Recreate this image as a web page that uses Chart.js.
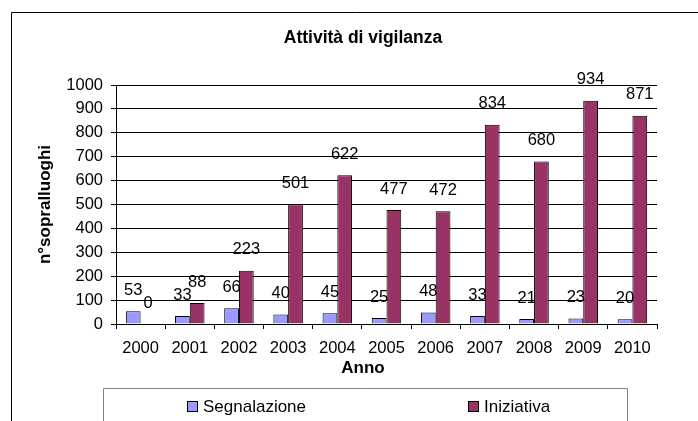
<!DOCTYPE html>
<html>
<head>
<meta charset="utf-8">
<script src="https://cdn.jsdelivr.net/npm/chart.js@4/dist/chart.umd.min.js"></script>
<style>
  html, body { margin: 0; padding: 0; background: #fff; }
  #wrap { width: 698px; height: 421px; }
</style>
</head>
<body>
<div id="wrap"><canvas id="chart" width="698" height="421"></canvas></div>
<script>
const years = ['2000', '2001', '2002', '2003', '2004', '2005', '2006', '2007', '2008', '2009', '2010'];
const segnalazione = [53, 33, 66, 40, 45, 25, 48, 33, 21, 23, 20];
const iniziativa = [0, 88, 223, 501, 622, 477, 472, 834, 680, 934, 871];

const FONT = "'Liberation Sans', Arial, sans-serif";

// value labels above the bars, frame, x title and boxed legend
const decorations = {
    id: 'decorations',
    afterDatasetsDraw(chart) {
        const ctx = chart.ctx;
        ctx.save();
        ctx.fillStyle = '#000';
        ctx.font = '16.5px ' + FONT;
        ctx.textAlign = 'center';
        ctx.textBaseline = 'middle';
        chart.data.datasets.forEach((ds, i) => {
            chart.getDatasetMeta(i).data.forEach((bar, j) => {
                ctx.fillText(String(ds.data[j]), bar.x, bar.y - 21);
            });
        });
        ctx.restore();
    },
    afterDraw(chart) {
        const ctx = chart.ctx;
        ctx.save();
        // outer frame
        ctx.strokeStyle = '#000';
        ctx.lineWidth = 1;
        ctx.beginPath();
        ctx.moveTo(11.5, 430);
        ctx.lineTo(11.5, 12.5);
        ctx.lineTo(700, 12.5);
        ctx.stroke();

        // x axis title
        ctx.fillStyle = '#000';
        ctx.font = 'bold 17px ' + FONT;
        ctx.textAlign = 'center';
        ctx.textBaseline = 'middle';
        ctx.fillText('Anno', 363, 368);

        // legend box
        ctx.strokeStyle = '#808080';
        ctx.beginPath();
        ctx.moveTo(103.5, 430);
        ctx.lineTo(103.5, 388.5);
        ctx.lineTo(627.5, 388.5);
        ctx.lineTo(627.5, 430);
        ctx.stroke();

        const itemX = [187, 468];
        ctx.font = '17px ' + FONT;
        ctx.textAlign = 'left';
        chart.data.datasets.forEach((ds, i) => {
            ctx.fillStyle = ds.backgroundColor;
            ctx.fillRect(itemX[i], 401, 11, 11);
            ctx.strokeStyle = '#000';
            ctx.strokeRect(itemX[i] + 0.5, 401.5, 10, 10);
            ctx.fillStyle = '#000';
            ctx.fillText(ds.label, itemX[i] + 16, 407);
        });
        ctx.restore();
    }
};

new Chart(document.getElementById('chart').getContext('2d'), {
    type: 'bar',
    data: {
        labels: years,
        datasets: [
            { label: 'Segnalazione', data: segnalazione, backgroundColor: '#9999FF', borderColor: '#000', borderWidth: 1, categoryPercentage: 0.6, barPercentage: 1 },
            { label: 'Iniziativa', data: iniziativa, backgroundColor: '#993366', borderColor: '#000', borderWidth: 1, categoryPercentage: 0.6, barPercentage: 1 }
        ]
    },
    options: {
        responsive: false,
        maintainAspectRatio: false,
        animation: false,
        layout: { padding: { left: 35, right: 7, top: 0, bottom: 57 } },
        scales: {
            x: {
                grid: { drawOnChartArea: false, drawTicks: true, tickLength: 5, color: '#000', offset: true },
                border: { color: '#000' },
                ticks: { color: '#000', font: { family: FONT, size: 16.5 }, padding: 10, maxRotation: 0, autoSkip: false },
                afterFit: (s) => { s.height = 40; }
            },
            y: {
                min: 0, max: 1000,
                grid: { color: '#000', tickLength: 5 },
                border: { color: '#000' },
                ticks: { stepSize: 100, color: '#000', font: { family: FONT, size: 16.5 }, padding: 8, callback: (v) => String(v) },
                title: { display: true, text: 'n°sopralluoghi', color: '#000', font: { family: FONT, size: 17, weight: 'bold' }, padding: 0 },
                afterFit: (s) => { s.width = 81; }
            },
            yR: {
                position: 'right',
                grid: { display: false },
                border: { display: false },
                ticks: { display: false },
                afterFit: (s) => { s.width = 34; }
            }
        },
        plugins: {
            legend: { display: false },
            tooltip: { enabled: false },
            title: { display: true, text: 'Attività di vigilanza', color: '#000', font: { family: FONT, size: 17.5, weight: 'bold' }, padding: { top: 28, bottom: 36 } }
        }
    },
    plugins: [decorations]
});
</script>
</body>
</html>
